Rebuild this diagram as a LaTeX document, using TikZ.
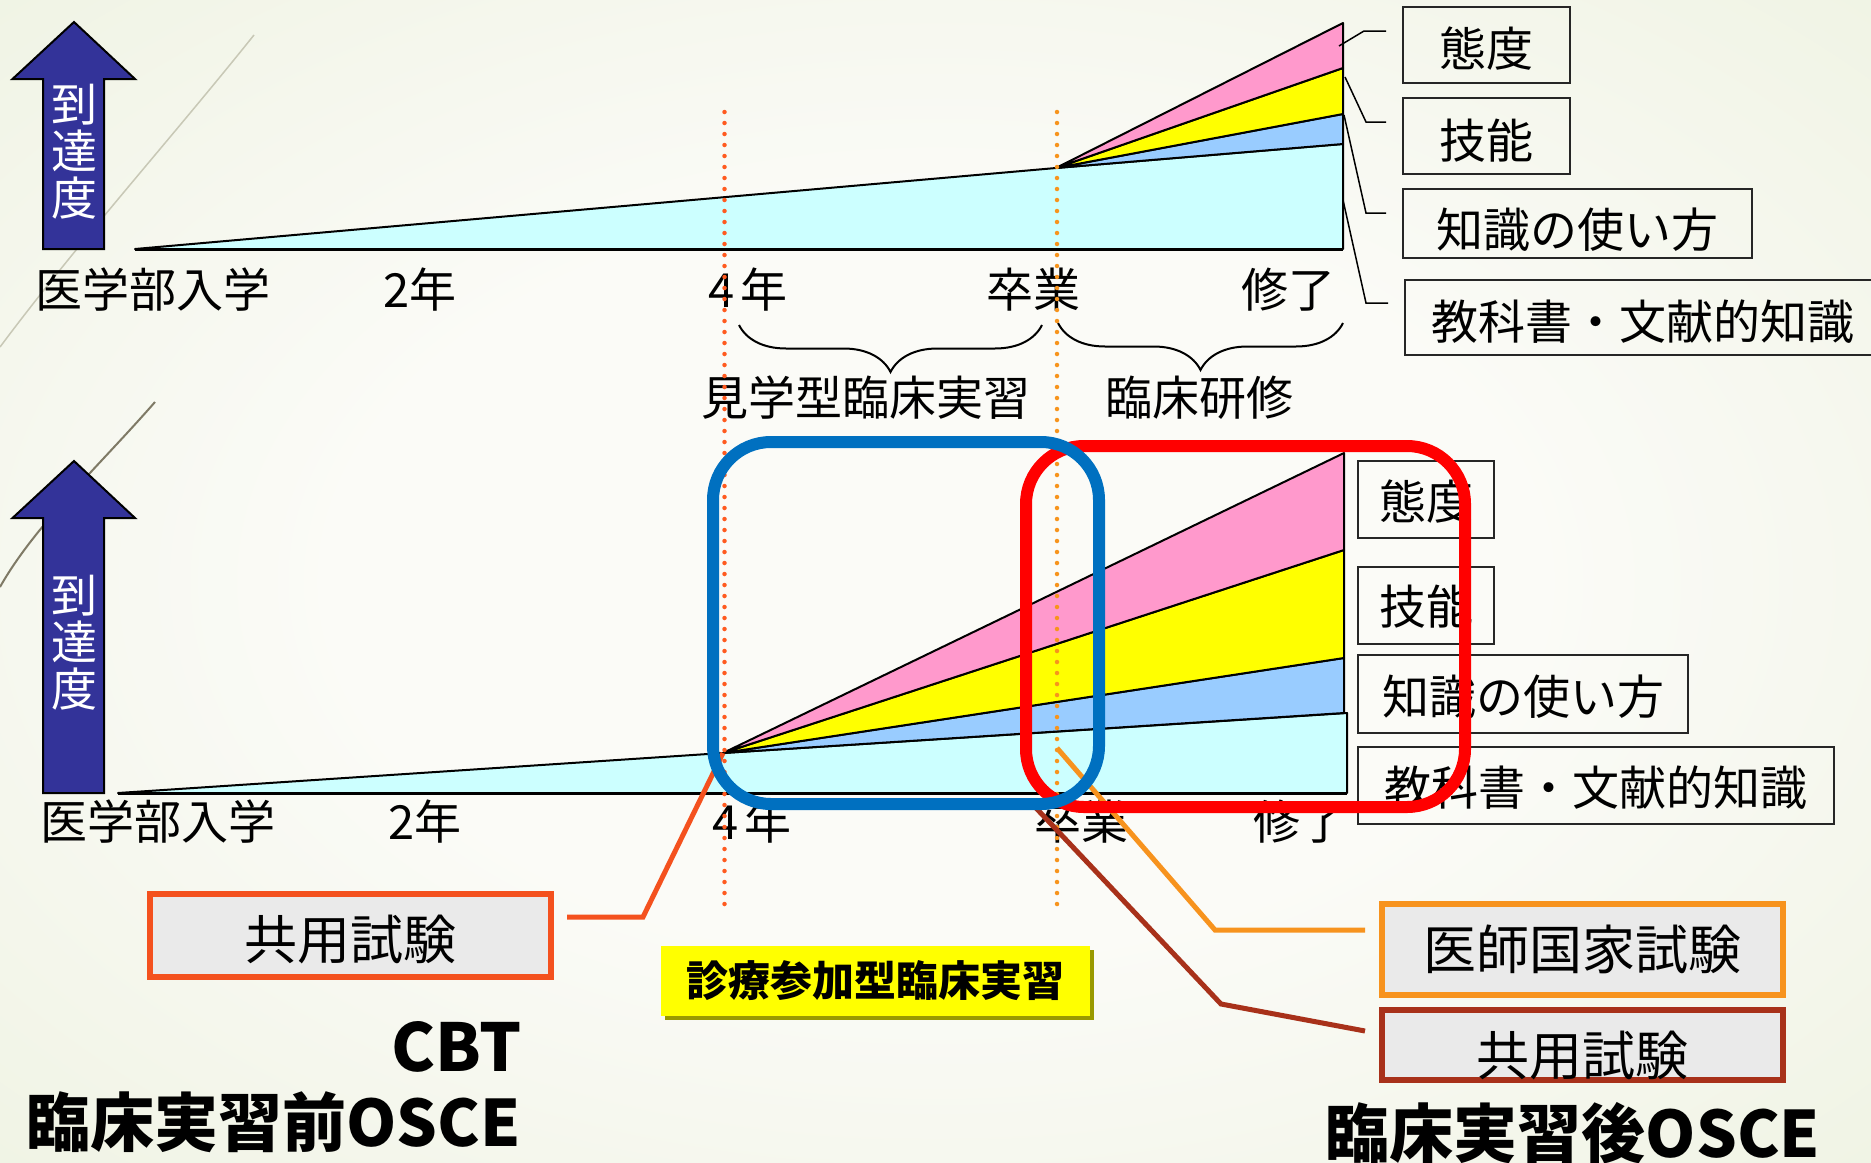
\documentclass[tikz,border=0pt]{standalone}
\usepackage{fontspec}
\setmainfont{Noto Sans CJK JP}
\usetikzlibrary{decorations.pathreplacing,calc,shadows}
\newcommand\myfs[1]{\fontsize{#1}{#1}\selectfont}
\newcommand\lowr[2]{\raisebox{-#1pt}[\height][\depth]{#2}}
\definecolor{cyanf}{HTML}{CCFFFF}
\definecolor{bluef}{HTML}{99CCFF}
\definecolor{yelf}{HTML}{FFFF00}
\definecolor{pinkf}{HTML}{FF99CC}
\definecolor{navyf}{HTML}{333399}
\definecolor{reddot}{HTML}{FF5A1F}
\definecolor{orgdot}{HTML}{F7941D}
\definecolor{boxred}{HTML}{F4511E}
\definecolor{boxorg}{HTML}{F7931E}
\definecolor{boxbrn}{HTML}{A8311A}
\definecolor{rrect}{HTML}{FF0000}
\definecolor{brect}{HTML}{0070C0}
\definecolor{gbox}{HTML}{EAEAEA}
\definecolor{shadowol}{HTML}{999900}
\definecolor{bgc}{HTML}{FBFBF7}
\definecolor{bge}{HTML}{E8EED7}
\definecolor{bgx}{HTML}{DCE5C4}
\definecolor{decoa}{HTML}{C8C8B6}
\definecolor{decob}{HTML}{7F7A66}
\pgfdeclareradialshading{bgshade}{\pgfpoint{0bp}{0bp}}{color(0bp)=(bgc); color(16bp)=(bgc); color(50bp)=(bge); color(75bp)=(bgx)}
\tikzset{
  lab/.style={inner sep=0pt, font=\myfs{47}},
  band/.style={draw=black, line width=2pt, line join=round},
  dotr/.style={reddot, line width=4.5pt, line cap=round, dash pattern=on 0pt off 11pt},
  doto/.style={orgdot, line width=4.5pt, line cap=round, dash pattern=on 0pt off 11pt},
  curly/.style={decorate, decoration={brace, mirror, amplitude=47pt}, line width=2pt},
  kbox/.style={draw=black!85, line width=2pt, inner sep=0pt, font=\myfs{47}},
  lead/.style={line width=1.5pt, black},
  exbox/.style={line width=6pt, fill=gbox, inner sep=0pt, font=\myfs{53}, minimum width=401pt},
  conn/.style={line width=5pt, line join=miter},
  arrowst/.style={fill=navyf, draw=black, line width=2pt, line join=miter},
  bigrect/.style={line width=12pt, rounded corners=58pt},
}
\begin{document}
\begin{tikzpicture}[x=1pt,y=-1pt]
\useasboundingbox (0,0) rectangle (1871,1162);
\clip (0,0) rectangle (1871,1162);
\shade[shading=bgshade] (0,0) rectangle (1871,1162);
% decorative lines
\draw[decoa, line width=1.5pt] (254,35) .. controls (170,140) and (80,240) .. (0,347);
\draw[decob, line width=2pt] (155,402) .. controls (100,465) and (35,525) .. (0,587);
% arrows
\draw[arrowst] (43,249) -- (43,79) -- (12.5,79) -- (74,22) -- (135,79) -- (104,79) -- (104,249) -- cycle;
\node[white, align=center, inner sep=0pt, font=\fontsize{46}{47}\selectfont] (ax1) at (74,151.5) {到\\達\\度};
\draw[arrowst] (43,793) -- (43,518) -- (12.5,518) -- (74,461) -- (135,518) -- (104,518) -- (104,793) -- cycle;
\node[white, align=center, inner sep=0pt, font=\fontsize{46}{47}\selectfont] (ax2) at (74,642.5) {到\\達\\度};
% top chart
\coordinate (s1) at (1056,168);
\filldraw[band, fill=cyanf] (135,249) -- (s1) -- (1343,144) -- (1343,249) -- cycle;
\filldraw[band, fill=bluef] (s1) -- (1343,114) -- (1343,144) -- cycle;
\filldraw[band, fill=yelf] (s1) -- (1343,68) -- (1343,114) -- cycle;
\filldraw[band, fill=pinkf] (s1) -- (1343,23) -- (1343,68) -- cycle;
\draw[black, line width=3pt] (135,249) -- (1343,249);
% bottom chart
\coordinate (s2) at (723,753);
\filldraw[band, fill=cyanf] (118,793) -- (s2) -- (1347,713) -- (1347,793) -- cycle;
\filldraw[band, fill=bluef] (s2) -- (1344,658) -- (1344,713) -- cycle;
\filldraw[band, fill=yelf] (s2) -- (1344,550) -- (1344,658) -- cycle;
\filldraw[band, fill=pinkf] (s2) -- (1344,453) -- (1344,550) -- cycle;
\draw[black, line width=3pt] (118,793) -- (1347,793);
% top row labels
\node[lab] (ta) at (153,290) {医学部入学};
\node[lab] (tb) at (420,290) {2年};
\node[lab] (tc) at (748,290) {4\kern6pt年};
\node[lab] (td) at (1033,290) {卒業};
\node[lab] (te) at (1288,290) {修了};
% braces
\draw[curly] (739,325) -- (1042,325);
\draw[curly] (1058,323) -- (1343,323);
\node[lab] (tf) at (866,398) {見学型臨床実習};
\node[lab] (tg) at (1199,398) {臨床研修};
% bottom row labels
\node[lab] (ba) at (158,822) {医学部入学};
\node[lab] (bb) at (425,822) {2年};
\node[lab] (bc) at (752,822) {4\kern6pt年};
\node[lab] (bd) at (1081,822) {卒業};
\node[lab] (be) at (1300,822) {修了};
% dotted lines
\draw[dotr] (724.5,112) -- (724.5,912);
\draw[doto] (1057,112) -- (1057,912);
% top right boxes
\node[kbox, minimum width=167pt, minimum height=76pt] (k1a) at (1486.5,45) {\lowr{4}{態度}};
\node[kbox, minimum width=167pt, minimum height=76pt] (k1b) at (1486.5,136) {\lowr{5}{技能}};
\node[kbox, minimum width=349pt, minimum height=69pt] (k1c) at (1577.5,223.5) {\lowr{6}{知識の使い方}};
\node[kbox, minimum width=476pt, minimum height=75pt] (k1d) at (1643,317.5) {\lowr{4}{教科書・文献的知識}};
\coordinate (q1) at (1339,46);
\coordinate (q2) at (1345,77);
\coordinate (q3) at (1344,115);
\coordinate (q4) at (1343,200);
\draw[lead] (q1) -- (1364,31) -- ($(k1a.west)+(-16,-14)$);
\draw[lead] (q2) -- (1366,122) -- ($(k1b.west)+(-16,-14)$);
\draw[lead] (q3) -- (1366,213) -- ($(k1c.west)+(-16,-10.5)$);
\draw[lead] (q4) -- (1366,303) -- ($(k1d.west)+(-16,-14.5)$);
% bottom right boxes
\node[kbox, minimum width=136pt, minimum height=77pt] (k2a) at (1426,499.5) {\lowr{2.5}{態度}};
\node[kbox, minimum width=136pt, minimum height=77pt] (k2b) at (1426,605.5) {\lowr{1.5}{技能}};
\node[kbox, minimum width=330pt, minimum height=78pt] (k2c) at (1523,694) {\lowr{3}{知識の使い方}};
\node[kbox, minimum width=476pt, minimum height=77pt] (k2d) at (1596,785.5) {\lowr{2.5}{教科書・文献的知識}};
% exam boxes
\node[exbox, draw=boxred, minimum height=83pt] (x1) at (350.5,935.5) {\lowr{4}{共用試験}};
\node[exbox, draw=boxorg, minimum height=91pt] (x2) at (1582.5,949.5) {医師国家試験};
\node[exbox, draw=boxbrn, minimum height=70pt] (x3) at (1582.5,1045) {\lowr{11}{共用試験}};
\node[fill=yelf, inner sep=0pt, minimum width=429pt, minimum height=70pt,
      drop shadow={shadow xshift=4pt, shadow yshift=-4pt, opacity=1, fill=shadowol},
      font=\myfs{42}\bfseries] (y1) at (875.5,981) {診療参加型臨床実習};
% connectors
\coordinate (g1) at (1057,748);
\coordinate (g2) at (1036,808);
\draw[conn, boxred] ($(x1.east)+(13,-18.5)$) -- ++(76,0) -- (s2);
\draw[conn, boxorg] (g1) -- (1215,930) -- ($(x2.west)+(-14,-19.5)$);
\draw[conn, boxbrn] (g2) -- (1221,1004) -- ($(x3.west)+(-14,-14)$);
% rounded frames
\draw[bigrect, rrect] (1026,446) rectangle (1465,807);
\draw[bigrect, brect] (713,442) rectangle (1099,804);
% bottom titles
\node[inner sep=0pt, anchor=east, font=\myfs{66}\bfseries] (cbt) at (522,1046.5) {CBT};
\node[inner sep=0pt, font=\myfs{64}\bfseries] (pre) at (273.5,1122.5) {臨床実習前OSCE};
\node[inner sep=0pt, font=\myfs{64}\bfseries] (post) at (1573,1133) {臨床実習後OSCE};
\end{tikzpicture}
\end{document}
